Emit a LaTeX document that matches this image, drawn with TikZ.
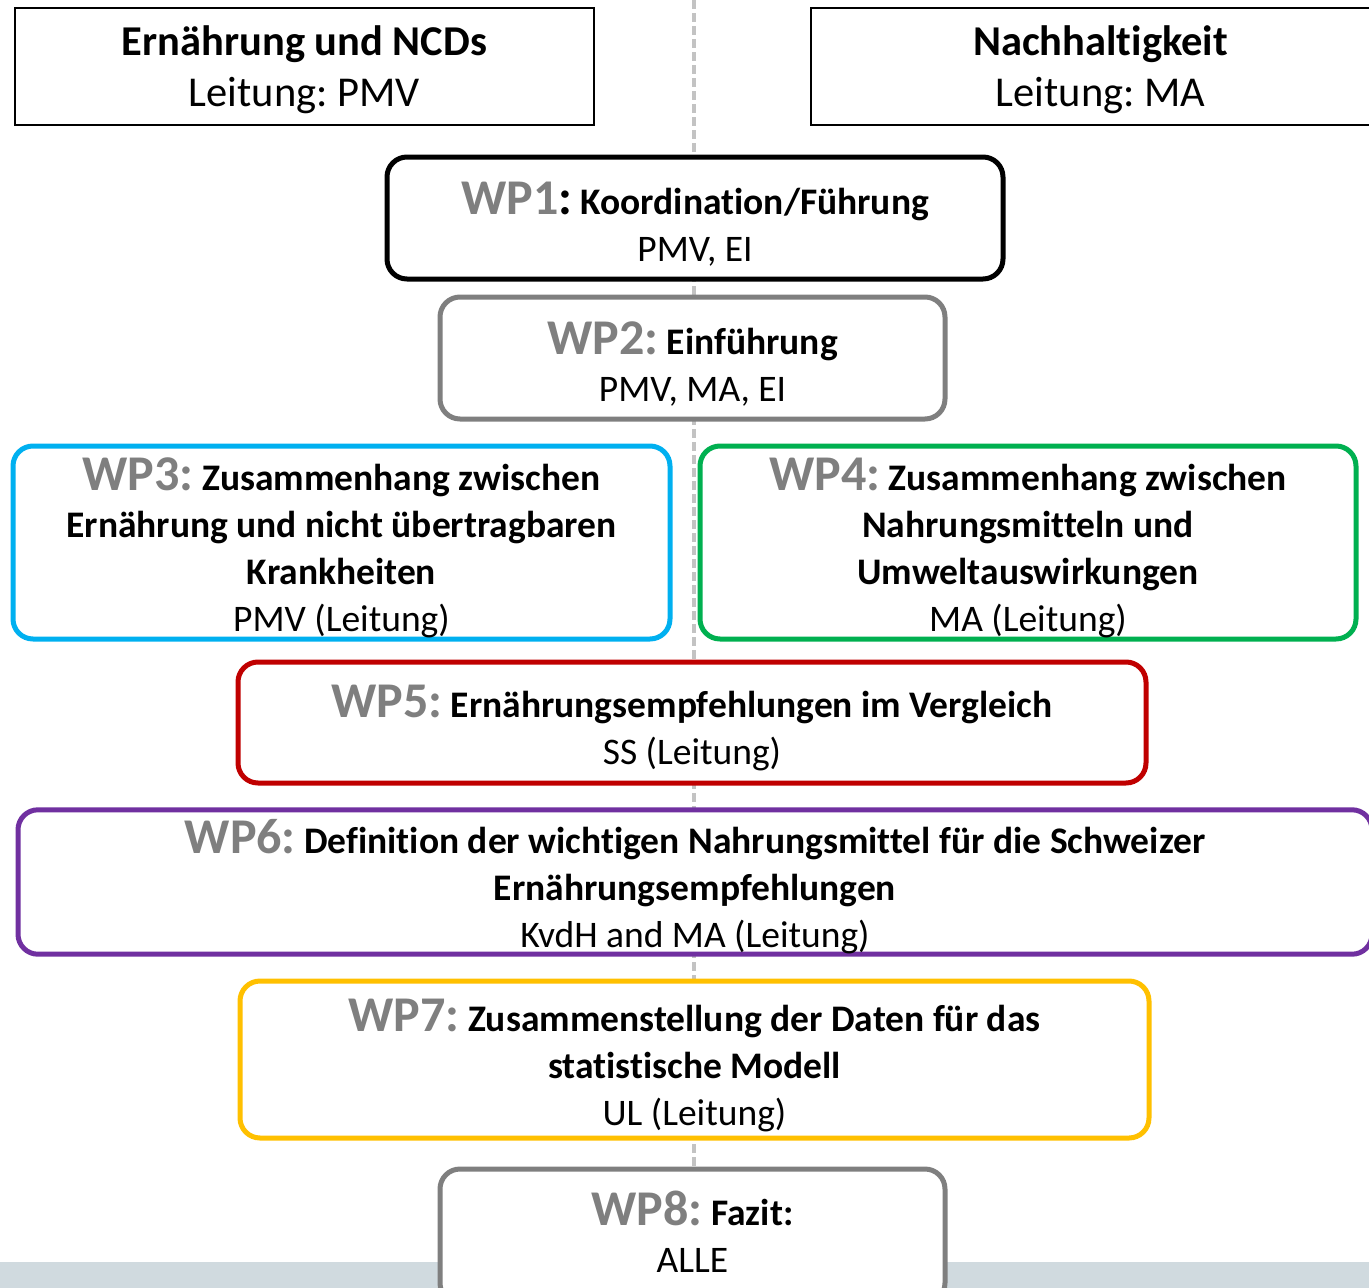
\documentclass[tikz,border=0pt]{standalone}
\usepackage{fontspec}
\setmainfont{Carlito}[Ligatures=NoCommon]
\usepackage{tikz}
\usetikzlibrary{positioning}
\frenchspacing
\definecolor{labelgray}{HTML}{7F7F7F}
\definecolor{wpcyan}{HTML}{00B0F0}
\definecolor{wpgreen}{HTML}{00B050}
\definecolor{wpred}{HTML}{C00000}
\definecolor{wppurple}{HTML}{7030A0}
\definecolor{wpyellow}{HTML}{FFC000}
\definecolor{midline}{HTML}{C3C3C3}
\definecolor{bandgray}{HTML}{D0DADF}
\newcommand{\wplab}[1]{\rule{0pt}{44pt}{\fontsize{50}{47}\selectfont\bfseries\color{labelgray}#1}}
\tikzset{
	head/.style = {draw=black, line width=2pt, inner sep=0pt, align=center, fill=white,
		font=\fontsize{42.5}{51}\selectfont},
	wp/.style = {line width=5pt, rounded corners=20pt, inner sep=0pt, align=center,
		fill=white, font=\fontsize{37.5}{47}\selectfont},
}

\begin{document}
\begin{tikzpicture}[x=1pt,y=-1pt]
	\useasboundingbox (0,0) rectangle (1369,1288);
	% -------------- background --------------
	\fill[bandgray] (0,1262) rectangle (1369,1288);
	\coordinate (lineTop) at (694,0);
	\coordinate (lineBot) at (694,1262);
	\draw[midline, line width=3.5pt, dash pattern=on 9pt off 4pt] (lineTop) -- (lineBot);
	% -------------- themes --------------
	\node[head, minimum width=579pt, minimum height=117pt] (ncd) at (304.5,66.5)
		{\rule{0pt}{36pt}\textbf{Ernährung und NCDs}\\Leitung: PMV};
	\node[head, minimum width=579pt, minimum height=117pt] (nachh) at (1100.5,66.5)
		{\rule{0pt}{36pt}\textbf{Nachhaltigkeit}\\Leitung: MA};
	% -------------- work packages --------------
	\node[wp, draw=black, minimum width=616pt, minimum height=122pt] (wp1) at (695,218)
		{\wplab{WP1}{\fontsize{50}{47}\selectfont\bfseries:} \textbf{Koordination/Führung}\\PMV, EI};
	\node[wp, draw=labelgray, minimum width=505pt, minimum height=122pt] (wp2) at (692.5,358)
		{\wplab{WP2:} \textbf{Einführung}\\PMV, MA, EI};
	\node[wp, draw=wpcyan, minimum width=657pt, minimum height=193pt] (wp3) at (341.5,542.5)
		{\wplab{WP3:} \textbf{Zusammenhang zwischen}\\\textbf{Ernährung und nicht übertragbaren}\\\textbf{Krankheiten}\\PMV (Leitung)};
	\node[wp, draw=wpgreen, minimum width=656pt, minimum height=193pt] (wp4) at (1028,542.5)
		{\wplab{WP4:} \textbf{Zusammenhang zwischen}\\\textbf{Nahrungsmitteln und}\\\textbf{Umweltauswirkungen}\\MA (Leitung)};
	\node[wp, draw=wpred, minimum width=908pt, minimum height=121pt] (wp5) at (692,722.5)
		{\wplab{WP5:} \textbf{Ernährungsempfehlungen im Vergleich}\\SS (Leitung)};
	\node[wp, draw=wppurple, minimum width=1354pt, minimum height=140pt] (wp6) at (695,882)
		{\wplab{WP6:} \textbf{Definition der wichtigen Nahrungsmittel für die Schweizer}\\\textbf{Ernährungsempfehlungen}\\KvdH and MA (Leitung)};
	\node[wp, draw=wpyellow, minimum width=909pt, minimum height=157pt] (wp7) at (694.5,1059.5)
		{\wplab{WP7:} \textbf{Zusammenstellung der Daten für das}\\\textbf{statistische Modell}\\UL (Leitung)};
	\node[wp, draw=labelgray, minimum width=505pt, minimum height=134pt] (wp8) at (692.5,1236)
		{\wplab{WP8:} \textbf{Fazit:}\\ALLE\rule[-18pt]{0pt}{0pt}};
\end{tikzpicture}
\end{document}
